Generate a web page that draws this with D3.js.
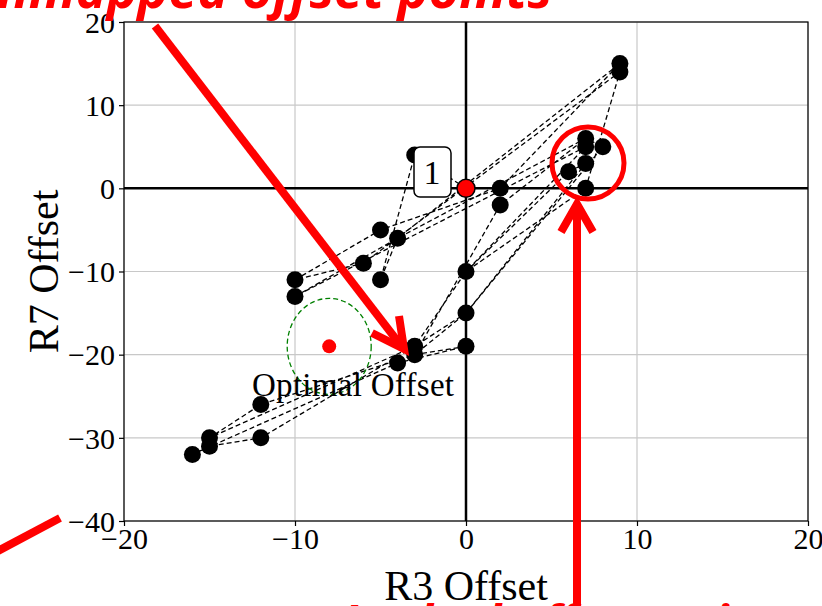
<!DOCTYPE html>
<html>
<head>
<meta charset="utf-8">
<script src="https://cdn.jsdelivr.net/npm/d3@7"></script>
<style>
  body { margin: 0; background: #fff; }
  svg { display: block; }
</style>
</head>
<body>
<div class="chart"></div>
<script>
// offset search path (R3, R7)
const r3Path = [0, -3, -5, -4, 9, 2, -5, -10, -6, 9, 7, 0, -3, -15, -12, -3, 0, -4, -16, -15, -12, -3, 0, 7, 6, 0, 7, -10, -4, 7, 8, 0, -3, 2, 7]
const r7Path = [0, 4, -11, -6, 15, 0, -5, -11, -9, 14, 0, -10, -19, -30, -26, -20, -19, -21, -32, -31, -30, -19, -15, 3, 2, -10, 5, -13, -6, 6, 5, -15, -20, -2, 6]
const startPoint = [0, 0]
const optimalPoint = [-8, -19]
const xTicks = [-20, -10, 0, 10, 20]
const yTicks = [20, 10, 0, -10, -20, -30, -40]

const W = 822, H = 606
const serif = '"Liberation Serif", "DejaVu Serif", serif'

const svg = d3.select('.chart').append('svg')
    .attr('width', W)
    .attr('height', H)

const x = d3.scaleLinear().domain([-20, 20]).range([124, 808])
const y = d3.scaleLinear().domain([-40, 20]).range([521, 22])

// grid
svg.append('g').selectAll('line.gx')
    .data(xTicks)
    .enter().append('line')
    .attr('x1', d => x(d)).attr('x2', d => x(d))
    .attr('y1', y(20)).attr('y2', y(-40))
    .attr('stroke', '#c8c8c8').attr('stroke-width', 1.2)
svg.append('g').selectAll('line.gy')
    .data(yTicks)
    .enter().append('line')
    .attr('y1', d => y(d)).attr('y2', d => y(d))
    .attr('x1', x(-20)).attr('x2', x(20))
    .attr('stroke', '#c8c8c8').attr('stroke-width', 1.2)

// zero lines
svg.append('line')
    .attr('x1', x(0)).attr('x2', x(0)).attr('y1', y(20)).attr('y2', y(-40))
    .attr('stroke', '#000').attr('stroke-width', 2.5)
svg.append('line')
    .attr('y1', y(0)).attr('y2', y(0)).attr('x1', x(-20)).attr('x2', x(20))
    .attr('stroke', '#000').attr('stroke-width', 2.5)

// frame
svg.append('rect')
    .attr('x', x(-20)).attr('y', y(20))
    .attr('width', x(20) - x(-20)).attr('height', y(-40) - y(20))
    .attr('fill', 'none').attr('stroke', '#000').attr('stroke-width', 1.2)

const fmt = d3.format('d')
const xAxis = svg.append('g')
    .attr('transform', `translate(0,${y(-40)})`)
    .call(d3.axisBottom(x).tickValues(xTicks).tickSize(5).tickPadding(2).tickFormat(fmt))
const yAxis = svg.append('g')
    .attr('transform', `translate(${x(-20)},0)`)
    .call(d3.axisLeft(y).tickValues(yTicks).tickSize(5).tickPadding(4).tickFormat(fmt))
;[xAxis, yAxis].forEach(a => {
    a.select('.domain').remove()
    a.selectAll('.tick line').attr('stroke', '#000').attr('stroke-width', 1.2)
    a.selectAll('.tick text').attr('font-family', serif).attr('font-size', 30).attr('fill', '#000')
})
yAxis.selectAll('.tick text').attr('dy', '0.34em')

// axis titles
svg.append('text')
    .attr('x', x(0)).attr('y', 600)
    .attr('text-anchor', 'middle')
    .attr('font-family', serif).attr('font-size', 42)
    .text('R3 Offset')
svg.append('text')
    .attr('transform', `translate(58,${y(-10)}) rotate(-90)`)
    .attr('text-anchor', 'middle')
    .attr('font-family', serif).attr('font-size', 42)
    .text('R7 Offset')

// path
const pts = r3Path.map((d, i) => [d, r7Path[i]])
svg.append('path')
    .datum(pts)
    .attr('d', d3.line().x(d => x(d[0])).y(d => y(d[1])))
    .attr('fill', 'none')
    .attr('stroke', '#000')
    .attr('stroke-width', 1.3)
    .attr('stroke-dasharray', '5,3')

// points
const uniq = Array.from(new Set(pts.filter(p => p[0] !== 0 || p[1] !== 0).map(p => p.join(',')))).map(s => s.split(',').map(Number))
svg.append('g').selectAll('circle')
    .data(uniq)
    .enter().append('circle')
    .attr('cx', d => x(d[0])).attr('cy', d => y(d[1]))
    .attr('r', 8.5)
    .attr('fill', '#000')

// start point
svg.append('circle')
    .attr('cx', x(startPoint[0])).attr('cy', y(startPoint[1]))
    .attr('r', 9).attr('fill', '#f00').attr('stroke', '#000').attr('stroke-width', 1.5)

// label box "1"
svg.append('rect')
    .attr('x', 414).attr('y', 147).attr('width', 37).attr('height', 50).attr('rx', 6)
    .attr('fill', '#fff').attr('stroke', '#000').attr('stroke-width', 1.5)
svg.append('text')
    .attr('x', 432).attr('y', 184)
    .attr('text-anchor', 'middle')
    .attr('font-family', serif).attr('font-size', 34)
    .text('1')

// optimal offset
svg.append('ellipse')
    .attr('cx', x(optimalPoint[0])).attr('cy', y(optimalPoint[1]))
    .attr('rx', 42).attr('ry', 48)
    .attr('fill', 'none').attr('stroke', 'green').attr('stroke-width', 1.3)
    .attr('stroke-dasharray', '5,3')
svg.append('circle')
    .attr('cx', x(optimalPoint[0])).attr('cy', y(optimalPoint[1]))
    .attr('r', 7).attr('fill', '#f00')
svg.append('text')
    .attr('x', 252).attr('y', 396)
    .attr('font-family', serif).attr('font-size', 33)
    .attr('textLength', 202)
    .text('Optimal Offset')

// red annotations
const red = svg.append('g').attr('stroke', '#f00').attr('fill', 'none').attr('stroke-width', 8)
red.append('line').attr('x1', 155).attr('y1', 26).attr('x2', 402).attr('y2', 347)
red.append('polyline').attr('points', '372,333 404,349 399,316')
red.append('line').attr('x1', 577).attr('y1', 610).attr('x2', 577).attr('y2', 206)
red.append('polyline').attr('points', '561,232 577,204 593,232')
red.append('line').attr('x1', -4).attr('y1', 552).attr('x2', 60).attr('y2', 518)
svg.append('circle')
    .attr('cx', 588).attr('cy', 163).attr('r', 36)
    .attr('fill', 'none').attr('stroke', '#f00').attr('stroke-width', 5)

svg.append('text')
    .attr('x', 552).attr('y', 8)
    .attr('text-anchor', 'end')
    .attr('font-family', '"Open Sans", sans-serif').attr('font-size', 52)
    .attr('font-weight', 'bold').attr('font-style', 'italic')
    .attr('fill', '#f00')
    .text('Unmapped offset points')
svg.append('text')
    .attr('x', 800).attr('y', 640)
    .attr('text-anchor', 'end')
    .attr('font-family', '"Open Sans", sans-serif').attr('font-size', 48)
    .attr('font-weight', 'bold').attr('font-style', 'italic')
    .attr('fill', '#f00')
    .text('Locked offset points')
</script>
</body>
</html>
